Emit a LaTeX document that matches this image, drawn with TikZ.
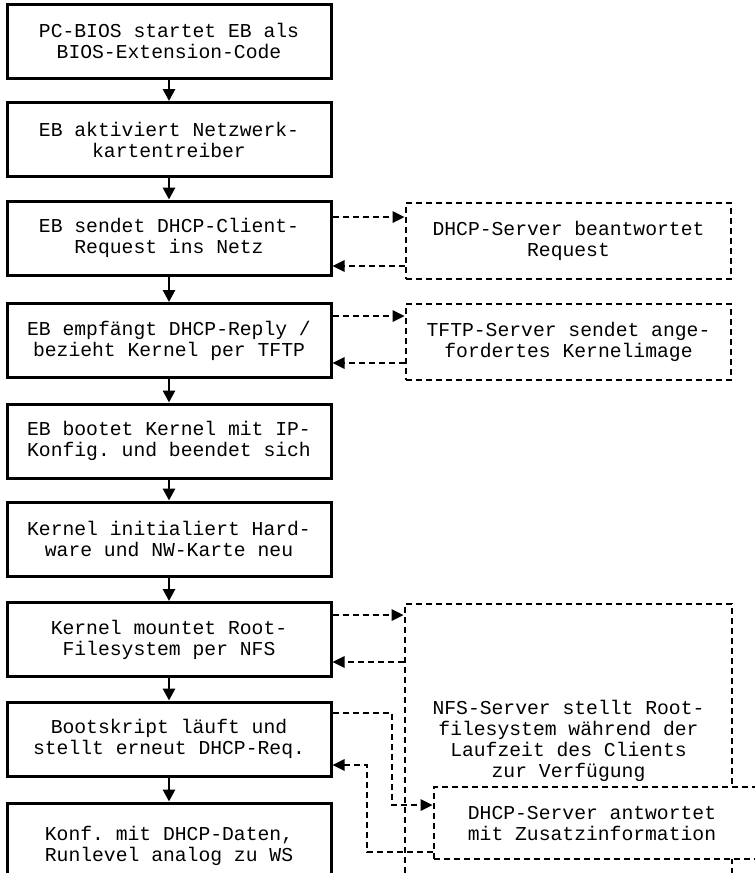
\documentclass[tikz,border=0pt]{standalone}
\usepackage{fontspec}
\setmonofont{Liberation Mono}
\usetikzlibrary{arrows.meta}
\begin{document}
\begin{tikzpicture}[x=1pt,y=-1pt,
  txt/.style={font=\ttfamily\fontsize{19.7}{21}\selectfont, align=center, inner sep=0pt},
  flowbox/.style={txt, draw, line width=3pt, minimum width=324pt, minimum height=74pt},
  srvbox/.style={txt, draw, fill=white, line width=2.6pt, dash pattern=on 6pt off 4pt, minimum width=325pt, minimum height=76pt},
  flowarrow/.style={line width=2.8pt, -{Triangle[length=12pt,width=12pt]}},
  dasharrow/.style={line width=2.6pt, dash pattern=on 6pt off 4pt, -{Triangle[length=12pt,width=11pt]}}]
\useasboundingbox (0,0) rectangle (755,873);
\clip (0,0) rectangle (755,873);

% main flow
\node[flowbox] (b1) at (169,41)    {PC-BIOS startet EB als\\BIOS-Extension-Code};
\node[flowbox] (b2) at (169,139.5) {EB aktiviert Netzwerk-\\kartentreiber};
\node[flowbox] (b3) at (169,238)   {EB sendet DHCP-Client-\\Request ins Netz};
\node[flowbox] (b4) at (169,340.5) {EB empfängt DHCP-Reply /\\bezieht Kernel per TFTP};
\node[flowbox] (b5) at (169,441)   {EB bootet Kernel mit IP-\\Konfig. und beendet sich};
\node[flowbox] (b6) at (169,539)   {Kernel initialiert Hard-\\ware und NW-Karte neu};
\node[flowbox] (b7) at (169,639.5) {Kernel mountet Root-\\Filesystem per NFS};
\node[flowbox] (b8) at (169,739)   {Bootskript läuft und\\stellt erneut DHCP-Req.};
\node[flowbox, minimum height=86pt] (b9) at (169,846) {Konf. mit DHCP-Daten,\\Runlevel analog zu WS};

% servers
\node[srvbox] (d1) at (568.5,241) {DHCP-Server beantwortet\\Request};
\node[srvbox] (tf) at (568.5,342) {TFTP-Server sendet ange-\\fordertes Kernelimage};
\node[srvbox, minimum width=327pt, minimum height=273pt] (nfs) at (568.5,740.5)
  {NFS-Server stellt Root-\\filesystem während der\\Laufzeit des Clients\\zur Verfügung};
\node[srvbox, minimum width=326pt, minimum height=72pt] (d2) at (597,823)
  {\hspace*{-10pt}DHCP-Server antwortet\\\hspace*{-10pt}mit Zusatzinformation};

% flow arrows
\foreach \a/\b in {b1/b2,b2/b3,b3/b4,b4/b5,b5/b6,b6/b7,b7/b8,b8/b9}
  \draw[flowarrow] (\a.south) -- (\b.north);

% request / reply
\draw[dasharrow] (b3.east |- 0,217) -- (d1.west |- 0,217);
\draw[dasharrow] (d1.west |- 0,266) -- (b3.east |- 0,266);
\draw[dasharrow] (b4.east |- 0,316) -- (tf.west |- 0,316);
\draw[dasharrow] (tf.west |- 0,363) -- (b4.east |- 0,363);
\draw[dasharrow] (b7.east |- 0,615) -- (nfs.west |- 0,615);
\draw[dasharrow] (nfs.west |- 0,662) -- (b7.east |- 0,662);
\draw[dasharrow] (b8.east |- 0,713) -| (392,805) -- (d2.west |- 0,805);
\draw[dasharrow] (d2.west |- 0,852) -| (367,765) -- (b8.east |- 0,765);
\end{tikzpicture}
\end{document}
